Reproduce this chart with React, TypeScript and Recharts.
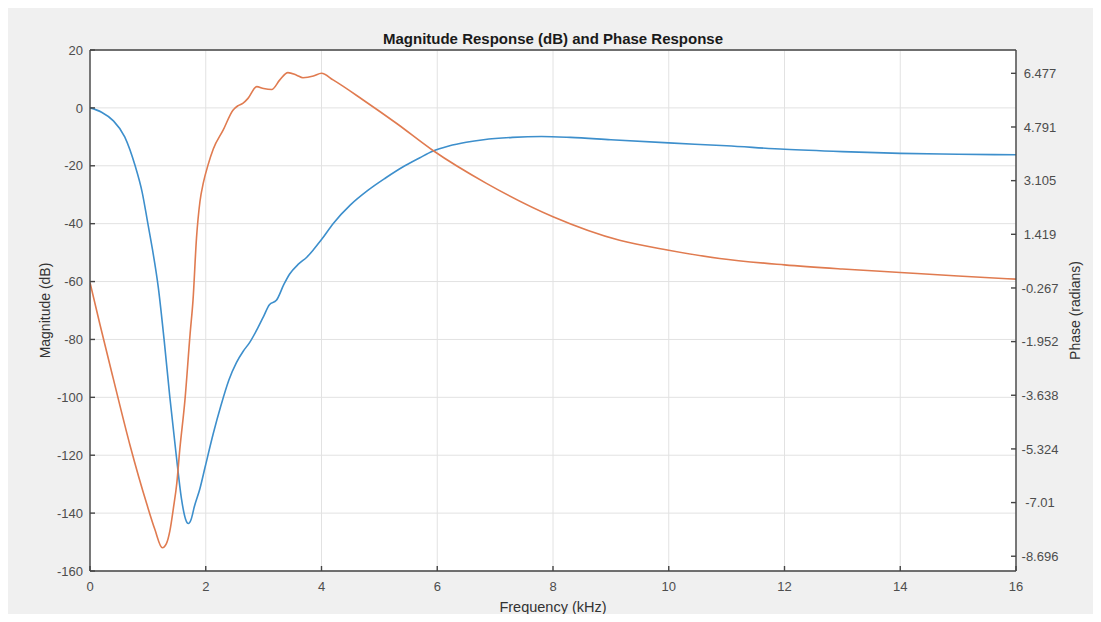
import { LineChart, Line, XAxis, YAxis, CartesianGrid } from 'recharts';

// Frequency samples (kHz) and magnitude (dB)
const magFreq = [
  0, 0.2, 0.4, 0.6, 0.78, 0.9, 1.0, 1.08, 1.18, 1.28, 1.38, 1.49, 1.58, 1.65, 1.7,
  1.75, 1.8, 1.9, 1.99, 2.13, 2.26, 2.4, 2.53, 2.65, 2.76, 2.9, 3.0, 3.1, 3.22, 3.35,
  3.45, 3.6, 3.75, 3.86, 4.0, 4.2, 4.5, 4.8, 5.1, 5.44, 5.7, 5.92, 6.2, 6.5, 6.8,
  7.3, 7.8, 8.3, 9.0, 10.0, 11.0, 12.0, 13.0, 14.0, 15.0, 16.0,
];
const magDb = [
  0, -1.5, -4.4, -10, -20, -29, -40, -49, -62, -80, -100, -120, -135, -142, -143.6,
  -142, -138, -131.5, -124, -112.5, -103, -94, -88, -84, -81, -76, -72, -68, -66.5, -61,
  -57.4, -54, -51.5, -49, -45.5, -40, -33.5, -28.5, -24.3, -20, -17.2, -15, -13.2, -11.9, -11.0,
  -10.2, -9.9, -10.2, -11, -12.1, -13.1, -14.3, -15.1, -15.7, -16.0, -16.2,
];

// Frequency samples (kHz) and phase (radians)
const phaseFreq = [
  0, 0.17, 0.4, 0.69, 0.98, 1.12, 1.25, 1.32, 1.38, 1.44, 1.5, 1.55, 1.64, 1.73, 1.78,
  1.84, 1.9, 1.96, 2.04, 2.13, 2.3, 2.47, 2.55, 2.64, 2.73, 2.88, 3.0, 3.14, 3.28, 3.42, 3.57,
  3.68, 3.86, 4.0, 4.2, 4.72, 5.3, 5.92, 6.85, 8.0, 9.15, 10.0, 10.88, 12.0, 13.0, 14.0,
  15.0, 16.0,
];
const phaseRad = [
  -0.1, -1.4, -3.1, -5.2, -7.05, -7.85, -8.43, -8.3, -7.9, -7.2, -6.4, -5.37, -3.8, -1.7, -0.65,
  1.3, 2.45, 3.05, 3.6, 4.1, 4.69, 5.32, 5.45, 5.53, 5.69, 6.06, 6.0, 5.97, 6.27, 6.5, 6.42,
  6.34, 6.39, 6.48, 6.27, 5.64, 4.9, 4.06, 3.02, 1.97, 1.23, 0.92, 0.66, 0.46, 0.33, 0.22,
  0.11, 0.01,
];

const freqTicks = [0, 2, 4, 6, 8, 10, 12, 14, 16];
const magTicks = [20, 0, -20, -40, -60, -80, -100, -120, -140, -160];
const phaseTicks = [6.477, 4.791, 3.105, 1.419, -0.267, -1.952, -3.638, -5.324, -7.01, -8.696];

const magData = magFreq.map((f, i) => ({ f, db: magDb[i] }));
const phaseData = phaseFreq.map((f, i) => ({ f, rad: phaseRad[i] }));

const AXIS = '#454545';
const FONT = '"Liberation Sans", Arial, sans-serif';
const tickStyle = { fontSize: 13, fill: '#4d4d4d', fontFamily: FONT };

const Blank = () => <g />;

const PhaseTick = (props: any) => (
  <text x={props.x} y={props.y} dy="0.355em" textAnchor="middle" {...tickStyle}>
    {String(props.payload.value)}
  </text>
);

const vLabel = (text: string, dx: number) => (props: any) => {
  const vb = props.viewBox;
  const x = vb.x + dx;
  const y = vb.y + vb.height / 2;
  return (
    <text x={x} y={y} transform={`rotate(-90, ${x}, ${y})`} textAnchor="middle"
      dominantBaseline="central" fontSize={14} fill="#333" fontFamily={FONT}>
      {text}
    </text>
  );
};

const TitleLabel = (props: any) => {
  const vb = props.viewBox;
  return (
    <text x={vb.x + vb.width / 2} y={vb.y - 11} textAnchor="middle" dominantBaseline="central"
      fontSize={15} fontWeight="bold" fill="#1a1a1a" fontFamily={FONT}>
      Magnitude Response (dB) and Phase Response
    </text>
  );
};

export default function App() {
  return (
    <div style={{ margin: -8, width: 1101, height: 622, background: '#fff', position: 'relative' }}>
      <div style={{ position: 'absolute', left: 8, top: 5, width: 1090, height: 613, background: '#f0f0f0' }} />
      <div style={{ position: 'absolute', left: 0, top: 0 }}>
        <LineChart width={1101} height={622} margin={{ top: 49, right: 25, bottom: 21, left: 30 }}>
          <CartesianGrid xAxisId="f" yAxisId="mag" stroke="#e2e2e2" fill="#fff"
            horizontalValues={magTicks} verticalValues={freqTicks} />
          <XAxis xAxisId="f" dataKey="f" type="number" domain={[0, 16]} ticks={freqTicks}
            allowDataOverflow height={30} stroke={AXIS} strokeWidth={1.4}
            tickSize={-5} tickMargin={15.5} tick={tickStyle}
            label={{ value: 'Frequency (kHz)', position: 'bottom', offset: 1, fontSize: 14.5, fill: '#333', fontFamily: FONT }} />
          <XAxis xAxisId="top" orientation="top" type="number" domain={[0, 16]} ticks={freqTicks}
            height={1} stroke={AXIS} strokeWidth={1.4} tickSize={-5} tick={Blank}
            label={<TitleLabel />} />
          <YAxis yAxisId="mag" type="number" domain={[-160, 20]} ticks={magTicks} width={60}
            stroke={AXIS} strokeWidth={1.4} tickSize={-5} tickMargin={12} tick={tickStyle}
            label={vLabel('Magnitude (dB)', 15)} />
          <YAxis yAxisId="magR" orientation="right" type="number" domain={[-160, 20]} ticks={magTicks}
            width={0} axisLine={false} stroke={AXIS} strokeWidth={1.4} tickSize={-5} tick={Blank} />
          <YAxis yAxisId="phase" orientation="right" type="number" domain={[-9.16, 7.21]}
            ticks={phaseTicks} allowDataOverflow width={60} stroke={AXIS} strokeWidth={1.4}
            tickSize={-5} tickMargin={29} tick={<PhaseTick />}
            label={vLabel('Phase (radians)', 59)} />
          <Line data={magData} dataKey="db" xAxisId="f" yAxisId="mag" type="monotone"
            stroke="#3d8fcc" strokeWidth={1.6} dot={false} isAnimationActive={false} />
          <Line data={phaseData} dataKey="rad" xAxisId="f" yAxisId="phase" type="monotone"
            stroke="#e07b50" strokeWidth={1.6} dot={false} isAnimationActive={false} />
        </LineChart>
      </div>
    </div>
  );
}
